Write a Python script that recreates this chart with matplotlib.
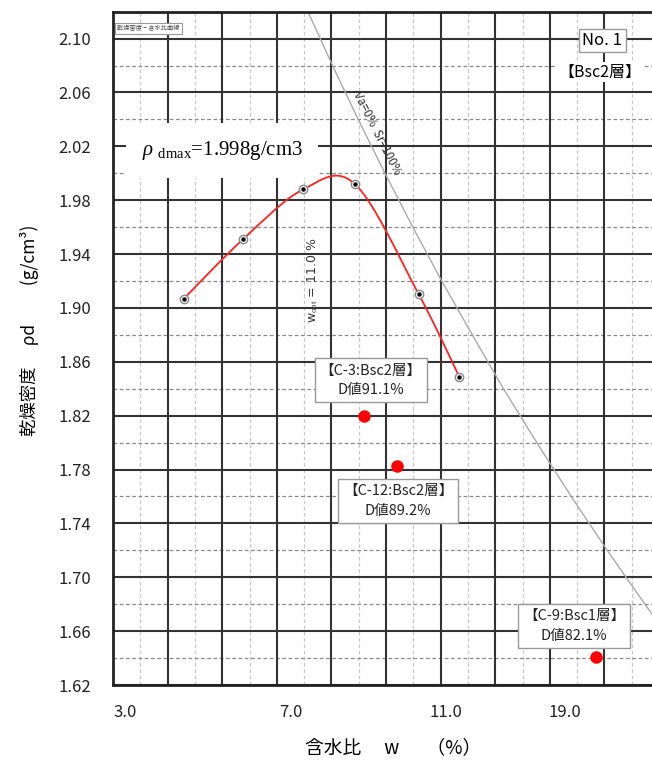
import matplotlib
matplotlib.use("Agg")
import matplotlib.pyplot as plt
import numpy as np
from matplotlib.path import Path
from matplotlib.patches import PathPatch

plt.rcParams["font.family"] = ["Noto Sans CJK JP", "DejaVu Sans"]
plt.rcParams["mathtext.fontset"] = "custom"
plt.rcParams["mathtext.rm"] = "Liberation Serif"
plt.rcParams["mathtext.it"] = "Liberation Serif:italic"

# compaction test points (water content on chart scale, dry density)
test_w = [4.30, 5.38, 6.48, 7.43, 8.60, 9.34]
test_rho = [1.907, 1.951, 1.988, 1.992, 1.910, 1.849]

# field samples
field_w = [7.60, 8.20, 11.85]
field_rho = [1.820, 1.783, 1.641]
field_labels = ["【C-3:Bsc2層】\nD値91.1%", "【C-12:Bsc2層】\nD値89.2%", "【C-9:Bsc1層】\nD値82.1%"]

# zero air void curve (Va=0%, Sr=100%)
va0_w = [6.57, 7.02, 7.49, 7.98, 8.49, 9.02, 9.58, 10.15, 10.76, 11.39, 12.05, 12.74, 13.46]
va0_rho = [2.12, 2.08, 2.04, 2.00, 1.96, 1.92, 1.88, 1.84, 1.80, 1.76, 1.72, 1.68, 1.64]

xtick_labels = ["3.0", "7.0", "11.0", "19.0"]
xtick_pos = [3.22, 6.26, 9.10, 11.28]
ytick_vals = [1.62, 1.66, 1.70, 1.74, 1.78, 1.82, 1.86, 1.90, 1.94, 1.98, 2.02, 2.06, 2.10]

fig = plt.figure(figsize=(6.52, 7.63), dpi=100)
ax = fig.add_axes([113 / 652, 1 - 685 / 763, 539 / 652, 673.3 / 763])
ax.set_xlim(3.0, 12.87)
ax.set_ylim(1.62, 2.1195)

# grid
for gx in np.arange(3.5, 13.0, 1.0):
    ax.axvline(gx, color="#c8c8c8", lw=0.9, ls=(0, (3, 2)), zorder=0)
for gx in np.arange(4.0, 13.0, 1.0):
    ax.axvline(gx, color="#333333", lw=1.5, zorder=1)
ax.set_yticks(ytick_vals, [f"{v:.2f}" for v in ytick_vals])
ax.set_yticks(np.arange(1.64, 2.12, 0.04), minor=True)
ax.yaxis.grid(True, which="major", color="#333333", lw=1.5, zorder=1)
ax.yaxis.grid(True, which="minor", color="#8a8a8a", lw=0.9, ls=(0, (3, 2)), zorder=0)
ax.set_axisbelow(True)
ax.set_xticks(xtick_pos, xtick_labels)
ax.tick_params(axis="both", which="both", length=0, labelsize=12, colors="#222222")
ax.tick_params(axis="y", pad=16)
ax.tick_params(axis="x", pad=14)
for s in ["left", "bottom", "top"]:
    ax.spines[s].set_linewidth(2)
    ax.spines[s].set_color("#222222")
ax.spines["right"].set_visible(False)

# zero air void curve
ax.plot(va0_w, va0_rho, color="#aaaaaa", lw=1.0, zorder=2)
ax.text(7.84, 2.030, "Va=0%  Sr=100%", rotation=-63, fontsize=8.5, color="#333333",
        ha="center", va="center", zorder=3)

# smooth compaction curve (Bezier through the test points)
pts = np.column_stack([test_w, test_rho])
ext = np.vstack([pts[0], pts, pts[-1]])
verts = [pts[0]]
codes = [Path.MOVETO]
for i in range(1, len(ext) - 2):
    p0, p1, p2, p3 = ext[i - 1], ext[i], ext[i + 1], ext[i + 2]
    verts += [p1 + (p2 - p0) / 6, p2 - (p3 - p1) / 6, p2]
    codes += [Path.CURVE4] * 3
ax.add_patch(PathPatch(Path(verts, codes), fc="none", ec="#ff2020", lw=1.3, zorder=4))
ax.plot(test_w, test_rho, "o", ms=6, mfc="white", mec="#888888", mew=1.0, zorder=5)
ax.plot(test_w, test_rho, "o", ms=2.2, color="black", zorder=6)

# field samples
ax.plot(field_w, field_rho, "o", ms=9, color="red", mec="none", zorder=6)
label_pos = [(7.72, 1.8463), (8.22, 1.7566), (11.44, 1.6638)]
for (lx, ly), lab in zip(label_pos, field_labels):
    ax.text(lx, ly, lab, fontsize=10.5, ha="center", va="center", linespacing=1.5,
            color="#222222", zorder=7,
            bbox=dict(boxstyle="square,pad=0.35", fc="white", ec="#999999", lw=1))

# optimum water content
ax.text(6.68, 1.9206, r"w$_{\rm opt}$ = 11.0 %", rotation=90, fontsize=9,
        ha="center", va="center", color="#333333", zorder=3,
        family=["DejaVu Sans"])

# max dry density box
ax.text(5.0, 2.017, r"$\rho$ $_{\rm dmax}$=1.998g/cm3", fontsize=15, ha="center", va="center",
        family=["Liberation Serif"], zorder=7,
        bbox=dict(boxstyle="square,pad=0.75", fc="white", ec="none"))

# small legend caption
ax.text(3.08, 2.1076, "乾燥密度 − 含水比曲線", fontsize=4.5, ha="left", va="center",
        color="#444444", zorder=7,
        bbox=dict(boxstyle="square,pad=0.3", fc="white", ec="#999999", lw=0.8))

# sample id
ax.text(11.96, 2.0987, "No. 1", fontsize=12, ha="center", va="center", zorder=7,
        bbox=dict(boxstyle="square,pad=0.2", fc="white", ec="#999999", lw=1))
ax.text(11.92, 2.075, "【Bsc2層】", fontsize=11.5, ha="center", va="center", zorder=7,
        bbox=dict(boxstyle="square,pad=0.1", fc="white", ec="none"))

ax.set_xlabel("含水比　 w　  （%）", fontsize=13.5)
ax.xaxis.set_label_coords(0.52, -0.078)
ax.set_ylabel("乾燥密度　 ρd　　 (g/cm³)", fontsize=12.5)
ax.yaxis.set_label_coords(-0.138, 0.527)

fig.savefig("out.png", dpi=100)
